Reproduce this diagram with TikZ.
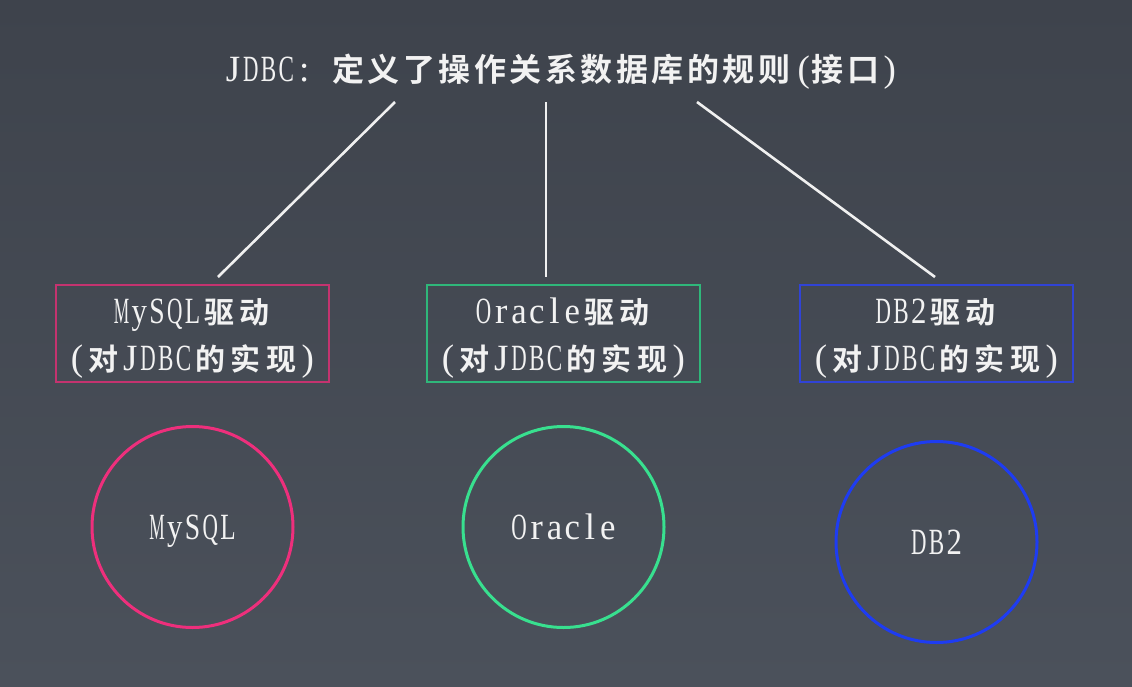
\documentclass[tikz,border=0pt]{standalone}
\usepackage{graphicx}
\usepackage{fontspec}
\setmainfont{Liberation Serif}
\newfontfamily\lat{Liberation Serif}
\newfontfamily\zhf{Noto Sans CJK SC}[UprightFont={* Bold}]
\newlength\hw \setlength\hw{17.75pt}
\newlength\fw \setlength\fw{35.5pt}
\newlength\glw \setlength\glw{15.4pt}
\newsavebox\glbox
\def\zhsize{32}
\newcommand\latchar[1]{\sbox\glbox{\lat\fontsize{37}{40}\selectfont #1}%
  \ifdim\wd\glbox>\glw\resizebox{\glw}{\ht\glbox}{\usebox\glbox}\else\usebox\glbox\fi}
\def\hzloop#1{\ifx\relax#1\else\makebox[\hw]{\latchar{#1}}\expandafter\hzloop\fi}
\def\fzloop#1{\ifx\relax#1\else\makebox[\fw]{\zhf\fontsize{\zhsize}{36}\selectfont #1}\expandafter\fzloop\fi}
\newcommand\hz[1]{\hzloop#1\relax}
\newcommand\fz[1]{\fzloop#1\relax}
\definecolor{bgtop}{HTML}{3E434C}
\definecolor{bgbot}{HTML}{4B515B}
\definecolor{txtc}{HTML}{F2F2F2}
\definecolor{chalkc}{HTML}{F0F0F0}
\definecolor{pinkbox}{HTML}{C4336F}
\definecolor{pinkcirc}{HTML}{EE2F7C}
\definecolor{greenbox}{HTML}{2FB77A}
\definecolor{greencirc}{HTML}{38E08F}
\definecolor{bluebox}{HTML}{3043D6}
\definecolor{bluecirc}{HTML}{1E3CF2}
\begin{document}
\begin{tikzpicture}[x=1pt,y=-1pt,
  chalk/.style={draw=chalkc, line width=2.6pt},
  drvbox/.style={rectangle, minimum width=273pt, minimum height=97pt, inner sep=0pt},
  boxline/.style={line width=1.6pt},
  dbcirc/.style={draw, circle, line width=3pt, minimum size=201pt, inner sep=0pt},
  txt/.style={text=txtc, inner sep=0pt, anchor=base},
  boxtxt/.style={txt, execute at begin node={\def\zhsize{30}}},
]
\useasboundingbox (0,0) rectangle (1132,686);
\shade[top color=bgtop, bottom color=bgbot] (0,0) rectangle (1132,686);

% title
\node[txt, anchor=base west] (title) at (224,81)
  {\hz{JDBC}\makebox[\fw][l]{\hspace{4pt}\lat\fontsize{37}{40}\selectfont:}\fz{定义了操作关系数据库的规则}\makebox[\hw][r]{\lat\fontsize{37}{40}\selectfont(}\fz{接口}\hz{)}};

% driver boxes
\node[drvbox] (b1) at (192.5,333.5) {};
\node[drvbox] (b2) at (563.5,333.5) {};
\node[drvbox] (b3) at (936.5,333.5) {};
\draw[boxline, draw=pinkbox] (b1.north west) rectangle (b1.south east);
\draw[boxline, draw=greenbox] (b2.north west) rectangle (b2.south east);
\draw[boxline, draw=bluebox] (b3.north west) rectangle (b3.south east);

\node[boxtxt] (b1a) at (192.5,323) {\hz{MySQL}\fz{驱动}};
\node[boxtxt] (b1b) at (192.5,370) {\hz{(}\fz{对}\hz{JDBC}\fz{的实现}\hz{)}};
\node[boxtxt] (b2a) at (563.5,323) {\hz{Oracle}\fz{驱动}};
\node[boxtxt] (b2b) at (563.5,370) {\hz{(}\fz{对}\hz{JDBC}\fz{的实现}\hz{)}};
\node[boxtxt] (b3a) at (936.5,323) {\hz{DB2}\fz{驱动}};
\node[boxtxt] (b3b) at (936.5,370) {\hz{(}\fz{对}\hz{JDBC}\fz{的实现}\hz{)}};

% connectors
\coordinate (t1) at (395,102);
\coordinate (t2) at (546,102);
\coordinate (t3) at (697,102);
\coordinate (e1) at (218,277);
\coordinate (e2) at (546,277);
\coordinate (e3) at (935,277);
\draw[chalk] (t1) -- (e1);
\draw[chalk] (t2) -- (e2);
\draw[chalk] (t3) -- (e3);

% databases
\node[dbcirc, draw=pinkcirc] (c1) at (192.5,527) {};
\node[dbcirc, draw=greencirc] (c2) at (563.5,527) {};
\node[dbcirc, draw=bluecirc] (c3) at (936.5,542) {};
\node[txt] (c1t) at (192.5,539) {\hz{MySQL}};
\node[txt] (c2t) at (563.5,539) {\hz{Oracle}};
\node[txt] (c3t) at (936.5,554) {\hz{DB2}};
\end{tikzpicture}
\end{document}
